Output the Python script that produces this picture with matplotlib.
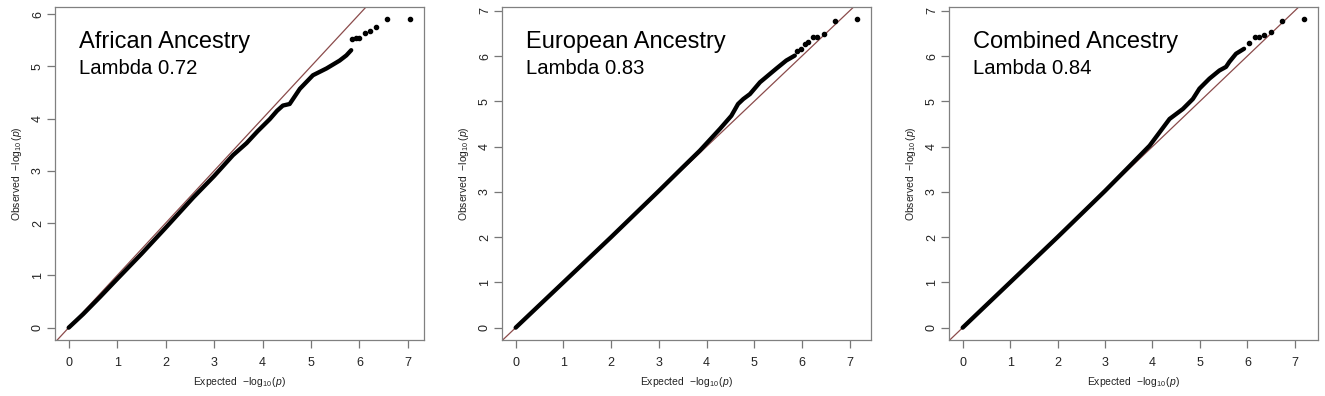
import numpy as np
import matplotlib
matplotlib.use("Agg")
import matplotlib.pyplot as plt

plt.rcParams["font.family"] = ["Liberation Sans", "DejaVu Sans"]
plt.rcParams["mathtext.fontset"] = "custom"
plt.rcParams["mathtext.rm"] = "Liberation Sans"
plt.rcParams["mathtext.it"] = "Liberation Sans:italic"

titles = ["African Ancestry", "European Ancestry", "Combined Ancestry"]
lambdas = ["Lambda 0.72", "Lambda 0.83", "Lambda 0.84"]

# dense part of each QQ curve (expected, observed)
afr_x = [0, 0.3, 0.65, 1.0, 1.5, 2.0, 2.57, 3.0, 3.39, 3.67, 3.9, 4.15, 4.3, 4.42,
         4.56, 4.77, 5.04, 5.32, 5.59, 5.73, 5.83]
afr_y = [0, 0.26, 0.59, 0.93, 1.41, 1.91, 2.49, 2.90, 3.30, 3.53, 3.76, 3.99, 4.15, 4.25,
         4.28, 4.57, 4.83, 4.96, 5.11, 5.21, 5.31]
eur_x = [0, 1.0, 2.0, 3.0, 3.5, 3.86, 4.28, 4.52, 4.66, 4.77, 4.91, 5.12, 5.46, 5.67, 5.85]
eur_y = [0, 1.0, 2.0, 3.02, 3.54, 3.91, 4.39, 4.68, 4.94, 5.05, 5.16, 5.42, 5.72, 5.90, 6.01]
com_x = [0, 1.0, 2.0, 3.0, 3.5, 3.94, 4.36, 4.64, 4.85, 4.99, 5.20, 5.41, 5.55, 5.62, 5.76, 5.93]
com_y = [0, 1.0, 2.0, 3.02, 3.55, 4.02, 4.61, 4.83, 5.05, 5.28, 5.50, 5.68, 5.76, 5.87, 6.05, 6.16]

# sparse tail points
afr_tx = [5.85, 5.93, 6.00, 6.11, 6.22, 6.35, 6.57, 7.05]
afr_ty = [5.53, 5.55, 5.55, 5.63, 5.67, 5.75, 5.90, 5.90]
eur_tx = [5.90, 5.97, 6.06, 6.13, 6.23, 6.32, 6.46, 6.69, 7.16]
eur_ty = [6.10, 6.16, 6.27, 6.30, 6.42, 6.42, 6.48, 6.78, 6.81]
com_tx = [6.03, 6.17, 6.25, 6.35, 6.50, 6.73, 7.20]
com_ty = [6.29, 6.41, 6.42, 6.47, 6.52, 6.78, 6.81]

curves = [(afr_x, afr_y, afr_tx, afr_ty), (eur_x, eur_y, eur_tx, eur_ty),
          (com_x, com_y, com_tx, com_ty)]
yticks = [range(0, 7), range(0, 8), range(0, 8)]
lefts = [55, 502, 949]

fig = plt.figure(figsize=(13.25, 3.96), dpi=100)
W, H = 1325, 396

for i, (cx, cy, tx, ty) in enumerate(curves):
    ax = fig.add_axes([lefts[i] / W, (H - 340) / H, 369 / W, 333 / H])
    xmax = max(tx)
    ymax = max(ty)
    ax.set_xlim(-0.04 * xmax, xmax * 1.04)
    ax.set_ylim(-0.04 * ymax, ymax * 1.04)
    ax.axline((0, 0), slope=1, color="#8b4b4b", lw=0.9, zorder=1)
    ax.plot(cx, cy, color="black", lw=3.1, solid_capstyle="round",
            solid_joinstyle="round", zorder=2)
    ax.plot(tx, ty, "o", color="black", ms=3.0, zorder=3)

    ax.set_xticks(range(0, 8))
    ax.set_yticks(list(yticks[i]))
    ax.tick_params(axis="both", length=6, width=0.9, color="#777777",
                   labelsize=9, labelcolor="#222222")
    ax.tick_params(axis="x", pad=6)
    ax.tick_params(axis="y", pad=2, labelrotation=90)
    for lab in ax.get_yticklabels():
        lab.set_va("center")
    for s in ax.spines.values():
        s.set_color("#808080")
        s.set_linewidth(0.9)

    ax.set_xlabel(r"Expected  $-\log_{10}(p)$", fontsize=7.5, color="#222222")
    ax.set_ylabel(r"Observed  $-\log_{10}(p)$", fontsize=7.5, color="#222222")
    ax.xaxis.set_label_coords(0.5, -0.105)
    ax.yaxis.set_label_coords(-0.085, 0.5)

    ax.text(0.065, 0.877, titles[i], transform=ax.transAxes, fontsize=17,
            ha="left", va="baseline")
    ax.text(0.065, 0.80, lambdas[i], transform=ax.transAxes, fontsize=14.6,
            ha="left", va="baseline")

fig.savefig("out.png", dpi=100)
